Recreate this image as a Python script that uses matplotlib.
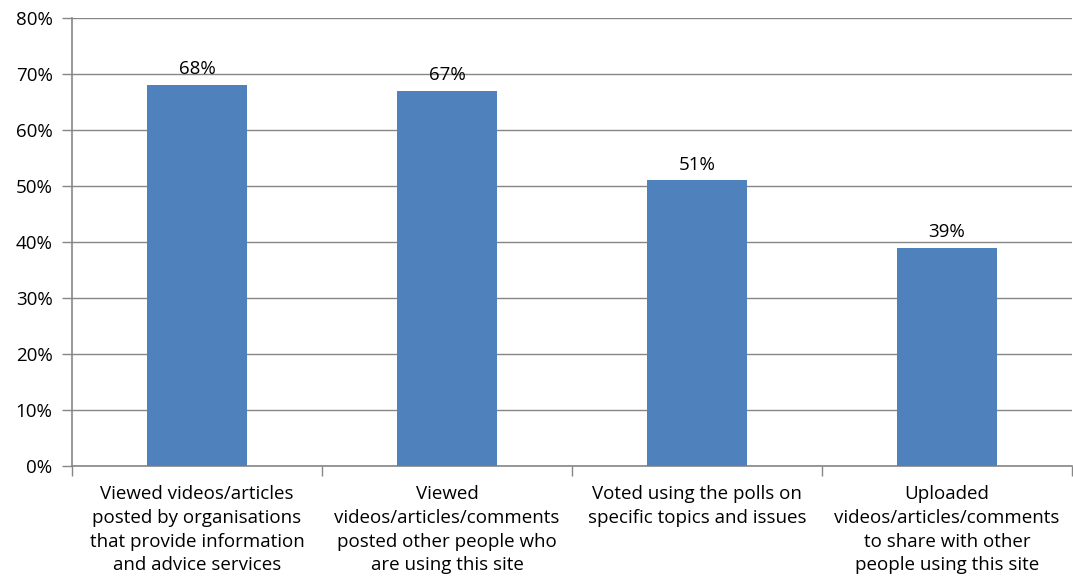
import numpy as np
import matplotlib.pyplot as plt

plt.rcParams['font.family'] = ['Open Sans', 'DejaVu Sans']

categories = [
    'Viewed videos/articles\nposted by organisations\nthat provide information\nand advice services',
    'Viewed\nvideos/articles/comments\nposted other people who\nare using this site',
    'Voted using the polls on\nspecific topics and issues',
    'Uploaded\nvideos/articles/comments\nto share with other\npeople using this site',
]
values = [68, 67, 51, 39]
yticks = [0, 10, 20, 30, 40, 50, 60, 70, 80]

grey = '#868686'
fs = 13.5

fig = plt.figure(figsize=(10.73, 5.81), dpi=100)
ax = fig.add_axes([72 / 1073, 115 / 581, 1000 / 1073, 448 / 581])

x = np.arange(len(values))
ax.bar(x, values, width=0.4, color='#4F81BD', zorder=3)

for xi, v in zip(x, values):
    ax.text(xi, v + 1.2, '{:d}%'.format(v), ha='center', va='bottom',
            fontsize=fs, color='black')

ax.set_xlim(-0.5, len(values) - 0.5)
ax.set_ylim(0, 80)

ax.set_yticks(yticks)
ax.set_yticklabels(['{:d}%'.format(t) for t in yticks], fontsize=fs)
ax.yaxis.grid(True, color=grey, linewidth=1.0, zorder=0)

# boundary ticks between categories, labels at centres
ax.set_xticks(np.arange(-0.5, len(values), 1.0))
ax.set_xticklabels([])
ax.set_xticks(x, minor=True)
ax.set_xticklabels(categories, minor=True, fontsize=fs, linespacing=1.4)
ax.tick_params(axis='x', which='major', length=7, color=grey, width=1)
ax.tick_params(axis='x', which='minor', length=0, pad=14)
ax.tick_params(axis='y', length=7, color=grey, width=1, pad=7)

for side in ['top', 'right']:
    ax.spines[side].set_visible(False)
for side in ['left', 'bottom']:
    ax.spines[side].set_color(grey)
    ax.spines[side].set_linewidth(1.2)

plt.savefig('out.png', dpi=100)
plt.close()
